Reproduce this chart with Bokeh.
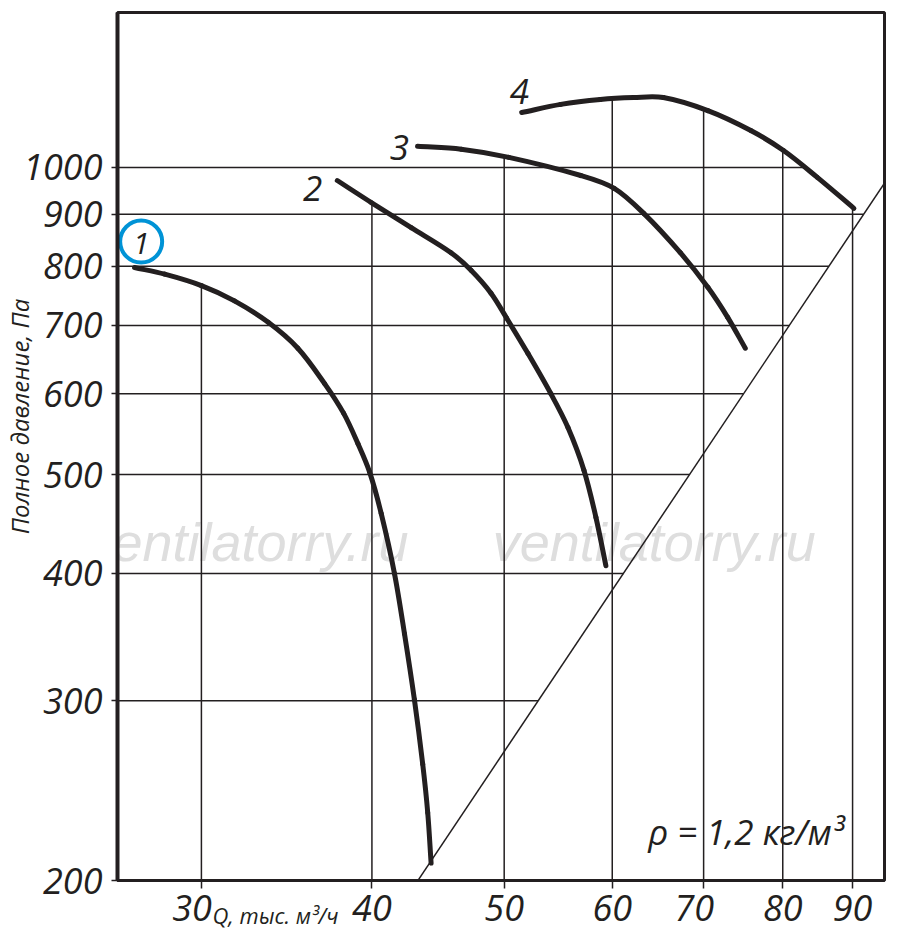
import numpy as np
from bokeh.plotting import figure
from bokeh.models import ColumnDataSource, Label, FixedTicker, Range1d
from bokeh.core.properties import value
from bokeh.embed import file_html
from bokeh.resources import INLINE

# ---------------- data ----------------
x_ticks = [30, 40, 50, 60, 70, 80, 90]
x_tick_labels = ["30", "40", "50", "60", "70", "80", "90"]
y_ticks = [200, 300, 400, 500, 600, 700, 800, 900, 1000]
y_tick_labels = ["200", "300", "400", "500", "600", "700", "800", "900", "1000"]

curve1_q = [26.80, 28.20, 30.00, 31.72, 33.58, 35.30, 36.93, 38.14, 39.07, 39.84,
            40.63, 41.55, 42.26, 42.97, 43.58, 43.95, 44.20]
curve1_p = [798, 786, 766, 740, 705, 665, 614, 574, 536, 503,
            458, 400, 349, 301, 260, 233, 208]

curve2_q = [37.73, 39.95, 42.74, 45.71, 47.28, 48.90, 50.20, 52.05, 54.10, 55.68,
            57.20, 58.37, 59.36]
curve2_p = [971, 924, 873, 825, 793, 753, 712, 657, 600, 556,
            505, 454, 407]

curve3_q = [43.2, 46.5, 50.4, 56.9, 60.2, 63.3, 67.3, 70.5, 72.9, 75.1]
curve3_p = [1049, 1042, 1023, 982, 954, 901, 825, 763, 713, 665]

curve4_q = [51.5, 55.0, 58.8, 62.2, 65.4, 70.5, 75.8, 80.1, 84.8, 90.2]
curve4_p = [1132, 1153, 1166, 1171, 1171, 1137, 1087, 1039, 978, 912]

# system characteristic (straight line on log-log axes)
sys_q = [42.5, 96.0]
sys_p = [193.3, 986.1]

curve_names = ["1", "2", "3", "4"]

x_title = "Q, тыс. м³/ч"
y_title = "Полное давление, Па"
rho_text = "ρ = 1,2 кг/м³"
watermark = "ventilatorry.ru"

INK = "#231f20"
BLUE = "#0093d6"
FONT = "Open Sans"

FRAME_W, FRAME_H = 768, 868
X_RANGE = (26.04, 94.98)
Y_RANGE = (200, 1418.8)

# ---------------- figure ----------------
p = figure(width=892, height=932,
           x_axis_type="log", y_axis_type="log",
           x_range=Range1d(*X_RANGE), y_range=Range1d(*Y_RANGE),
           output_backend="svg", toolbar_location=None,
           min_border_left=116, min_border_right=8,
           min_border_top=12, min_border_bottom=52,
           background_fill_color="white", border_fill_color="white")
p.xgrid.visible = False
p.ygrid.visible = False
p.outline_line_color = INK
p.outline_line_width = 3

xa = p.xaxis[0]
xa.ticker = FixedTicker(ticks=x_ticks, minor_ticks=[])
# the "30" and "70" labels sit a little left of their ticks in the original
x_label_pad = {30: "\u00a0\u00a0", 70: "\u00a0\u00a0"}
xa.major_label_overrides = {t: l + x_label_pad.get(t, "") for t, l in zip(x_ticks, x_tick_labels)}
ya = p.yaxis[0]
ya.ticker = FixedTicker(ticks=y_ticks, minor_ticks=[])
ya.major_label_overrides = {t: l for t, l in zip(y_ticks, y_tick_labels)}
for ax in (xa, ya):
    ax.axis_line_color = INK
    ax.major_tick_line_color = INK
    ax.major_tick_line_width = 1.5
    ax.major_tick_in = 0
    ax.minor_tick_line_color = None
    ax.major_label_text_font = FONT
    ax.major_label_text_font_style = "italic"
    ax.major_label_text_font_size = "36px"
    ax.major_label_text_color = INK
    ax.axis_label_text_font = FONT
    ax.axis_label_text_font_style = "italic"
    ax.axis_label_text_color = INK
xa.axis_line_width = 3
xa.major_tick_out = 8
xa.major_label_standoff = -6
# axis title sits in the tick-label row, left of the frame centre
xa.axis_label = x_title + "\u2003" * 20 + "\u2002"
xa.axis_label_text_font_size = "22px"
xa.axis_label_standoff = -35
ya.axis_line_width = 4
ya.major_tick_out = 6
ya.major_label_standoff = 9
ya.axis_label = "\u2003\u2003\u2002" + y_title
ya.axis_label_text_font_size = "24px"
ya.axis_label_standoff = -16

# ---------------- watermark ----------------
wm = ColumnDataSource(dict(q=[32.4, 64.4], p=[429, 429], t=[watermark, watermark]))
p.text(x="q", y="p", text="t", source=wm, text_font=value("Liberation Sans"),
       text_font_style="italic", text_font_size="54px", text_align="center",
       text_baseline="alphabetic", text_color="#dedede")

# ---------------- partial grid lines ----------------
curves = [(curve1_q, curve1_p), (curve2_q, curve2_p),
          (curve3_q, curve3_p), (curve4_q, curve4_p)]


def interp_log(v, xs, ys):
    return float(np.exp(np.interp(np.log(v), np.log(xs), np.log(ys))))


# vertical lines: from the bottom up to the highest curve at that flow
vx0, vy0, vx1, vy1 = [], [], [], []
for t in x_ticks:
    tops = [interp_log(t, cq, cp) for cq, cp in curves if cq[0] <= t <= cq[-1]]
    vx0.append(t); vx1.append(t)
    vy0.append(Y_RANGE[0]); vy1.append(max(tops))
p.segment(x0=vx0, y0=vy0, x1=vx1, y1=vy1, line_color=INK, line_width=1.5)

# horizontal lines: from the left edge to the system line (or curve 4)
imax = int(np.argmax(curve4_p))
d_q = list(reversed(curve4_q[imax:]))
d_p = list(reversed(curve4_p[imax:]))
hx0, hy0, hx1, hy1 = [], [], [], []
for t in y_ticks[1:]:
    end = interp_log(t, sys_p, sys_q)
    if min(d_p) <= t <= max(d_p):
        end = min(end, interp_log(t, d_p, d_q))
    hx0.append(X_RANGE[0]); hx1.append(end)
    hy0.append(t); hy1.append(t)
p.segment(x0=hx0, y0=hy0, x1=hx1, y1=hy1, line_color=INK, line_width=1.5)

# system line
p.line(sys_q, sys_p, line_color=INK, line_width=1.5)

# ---------------- fan curves (smooth Hermite/Bezier through the read points) ----------------
SX = FRAME_W / np.log(X_RANGE[1] / X_RANGE[0])
SY = FRAME_H / np.log(Y_RANGE[1] / Y_RANGE[0])


def bezier_through(qs, ps):
    pts = np.column_stack([np.log(qs) * SX, np.log(ps) * SY])
    d = np.sqrt(((pts[1:] - pts[:-1]) ** 2).sum(axis=1))
    t = np.concatenate([[0.0], np.cumsum(d)])
    m = np.zeros_like(pts)
    m[0] = (pts[1] - pts[0]) / (t[1] - t[0])
    m[-1] = (pts[-1] - pts[-2]) / (t[-1] - t[-2])
    for i in range(1, len(pts) - 1):
        m[i] = (pts[i + 1] - pts[i - 1]) / (t[i + 1] - t[i - 1])
    c0 = pts[:-1] + m[:-1] * d[:, None] / 3.0
    c1 = pts[1:] - m[1:] * d[:, None] / 3.0

    def back(a):
        return np.exp(a[:, 0] / SX), np.exp(a[:, 1] / SY)

    x0, y0 = back(pts[:-1]); x1, y1 = back(pts[1:])
    cx0, cy0 = back(c0); cx1, cy1 = back(c1)
    return dict(x0=x0, y0=y0, x1=x1, y1=y1, cx0=cx0, cy0=cy0, cx1=cx1, cy1=cy1)


for cq, cp in curves:
    src = ColumnDataSource(bezier_through(cq, cp))
    p.bezier(x0="x0", y0="y0", x1="x1", y1="y1", cx0="cx0", cy0="cy0",
             cx1="cx1", cy1="cy1", source=src, line_color=INK, line_width=5,
             line_cap="round")

# curve numbers
lab = ColumnDataSource(dict(q=[36.2, 41.9, 51.3], p=[953, 1047, 1186], t=curve_names[1:]))
p.text(x="q", y="p", text="t", source=lab, text_font=value(FONT), text_font_style="italic",
       text_font_size="35px", text_align="center", text_baseline="alphabetic", text_color=INK)
one = ColumnDataSource(dict(q=[27.1], p=[842], t=curve_names[:1]))
p.text(x="q", y="p", text="t", source=one, text_font=value(FONT), text_font_style="italic",
       text_font_size="30px", text_align="center", text_baseline="alphabetic", text_color=INK)
p.scatter(x=[27.1], y=[846], marker="circle", size=42, fill_color=None,
          line_color=BLUE, line_width=4)

# density note
p.add_layout(Label(x=75.2, y=223.5, text=rho_text,
                   text_font=FONT, text_font_style="italic", text_font_size="35px",
                   text_color=INK, text_align="center", text_baseline="alphabetic"))

open("out.html", "w").write(file_html(p, INLINE))
